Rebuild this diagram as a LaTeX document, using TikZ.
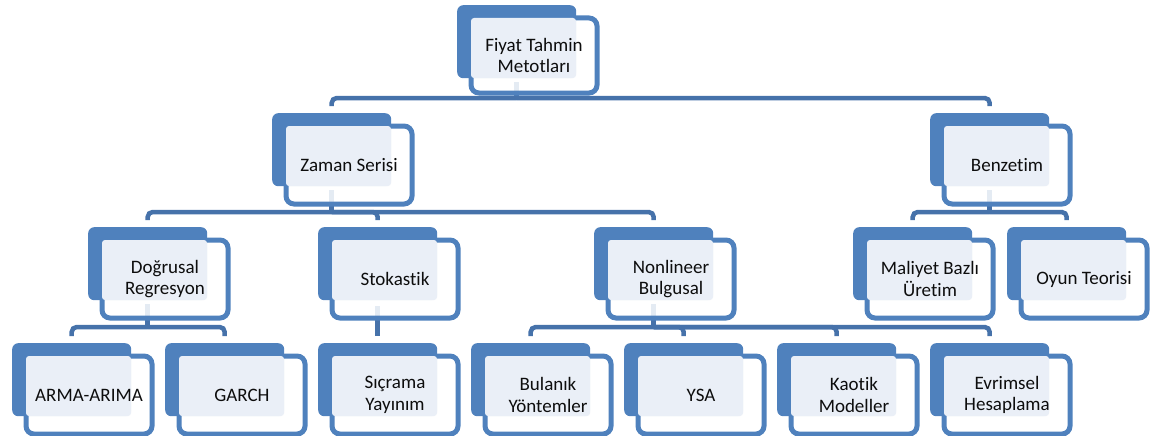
\documentclass[tikz,border=0pt]{standalone}
\usepackage{fontspec}
\setmainfont{Carlito}[Ligatures=NoCommon]
\usetikzlibrary{calc}
\pgfdeclarelayer{bg}
\pgfsetlayers{bg,main}
\definecolor{acc}{HTML}{4F81BD}
\definecolor{accdk}{HTML}{4672AA}
\definecolor{pale}{HTML}{EAEFF7}
\tikzset{
  backbox/.style={fill=acc, draw=none, rounded corners=6, inner sep=0,
    minimum width=119, minimum height=73, anchor=north west},
  framebox/.style={draw=acc, line width=5, fill=white, fill opacity=0.86,
    rounded corners=8, inner sep=0, minimum width=126, minimum height=78,
    anchor=north west},
  shortframe/.style={minimum height=75},
  lbl/.style={align=center, inner sep=0, text=black!95,
    font=\fontsize{19}{21.5}\selectfont},
  conn/.style={draw=accdk, line width=4.5},
  trunk/.style={conn, line cap=rect},
}
% #1 extra frame style, #2 name, #3/#4 top-left corner of the solid box, #5 text
\newcommand\orgnode[5][]{%
  \node[backbox] (#2) at (#3,#4) {};
  \node[framebox,#1] (#2-f) at ({#3+11.5},{#4+10.5}) {};
  \fill[pale, rounded corners=3] ({#3+14},{#4+13}) rectangle ({#3+119},{#4+73});
  \node[lbl] (#2-t) at (#2-f.center) {#5};
  \coordinate (#2-out) at ($(#2.south)+(0,6)$);
  \coordinate (#2-in) at ($(#2.north)+(0,-7)$);
}
% trunk below a parent down to its bar
\newcommand\trunk[2]{\draw[trunk] (#1-out) -- (#1-out |- #2);}
% drop from the bar into a child
\newcommand\drop[3]{\draw[conn, rounded corners=5] (#1-out |- #3) -| (#2-in);}
\begin{document}
\begin{tikzpicture}[x=1pt, y=-1pt]
\useasboundingbox (0,0) rectangle (1156,436);

\coordinate (b0) at (0,98);
\coordinate (b1) at (0,212);
\coordinate (b2) at (0,327);

\orgnode[shortframe]{fiyat}{457}{5}{Fiyat Tahmin\\Metotları}
\orgnode{zaman}{272}{113}{Zaman Serisi}
\orgnode{benz}{930}{113}{Benzetim}
\orgnode{dog}{88}{227}{Doğrusal\\Regresyon}
\orgnode{stok}{318}{227}{Stokastik}
\orgnode{nonl}{594}{227}{Nonlineer\\Bulgusal}
\orgnode{mal}{853}{227}{Maliyet Bazlı\\Üretim}
\orgnode{oyun}{1007}{227}{Oyun Teorisi}
\orgnode{arma}{12}{343}{ARMA-ARIMA}
\orgnode{garch}{165}{343}{GARCH}
\orgnode{sicr}{318}{343}{Sıçrama\\Yayınım}
\orgnode{bul}{471}{343}{Bulanık\\Yöntemler}
\orgnode{ysa}{624}{343}{YSA}
\orgnode{kao}{777}{343}{Kaotik\\Modeller}
\orgnode{evr}{930}{343}{Evrimsel\\Hesaplama}

\begin{pgfonlayer}{bg}
  \trunk{fiyat}{b0}
  \drop{fiyat}{zaman}{b0}
  \drop{fiyat}{benz}{b0}

  \trunk{zaman}{b1}
  \drop{zaman}{dog}{b1}
  \drop{zaman}{stok}{b1}
  \drop{zaman}{nonl}{b1}

  \trunk{benz}{b1}
  \drop{benz}{mal}{b1}
  \drop{benz}{oyun}{b1}

  \trunk{dog}{b2}
  \drop{dog}{arma}{b2}
  \drop{dog}{garch}{b2}

  \draw[conn] (stok-out) -- (sicr-in);

  \trunk{nonl}{b2}
  \drop{nonl}{bul}{b2}
  \drop{nonl}{ysa}{b2}
  \drop{nonl}{kao}{b2}
  \drop{nonl}{evr}{b2}
\end{pgfonlayer}
\end{tikzpicture}
\end{document}
